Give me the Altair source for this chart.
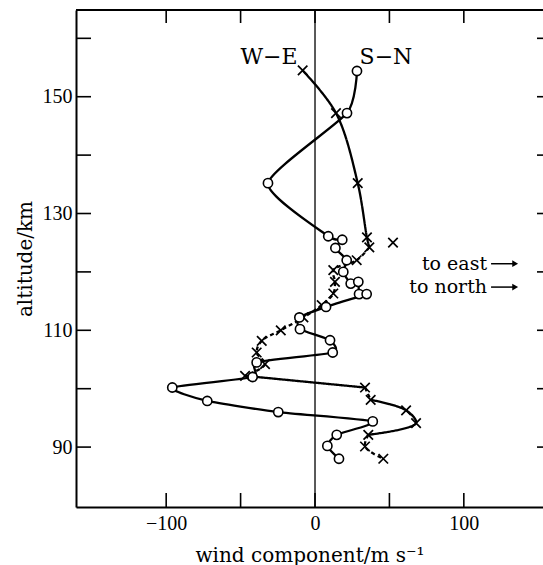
import altair as alt
import pandas as pd

# ---- data ----
# S-N component (open circles), path order top -> bottom
sn_x = [28.2, 21.5, -31.6, 8.9, 18.3, 13.7, 21.3, 19.0, 24.0, 29.1, 29.6, 34.7, 7.4,
        -10.5, -10.1, 10.1, 11.9, -39.2, -41.9, -95.9, -72.4, -24.7, 38.8, 14.6, 8.3, 16.1]
sn_y = [154.4, 147.2, 135.2, 126.1, 125.5, 124.1, 122.0, 120.0, 118.0, 118.3, 116.2, 116.2, 114.0,
        112.2, 110.2, 108.3, 106.2, 104.5, 102.0, 100.2, 97.9, 96.0, 94.4, 92.1, 90.2, 88.0]

# W-E component (crosses), path order top -> bottom
we_x = [-8.3, 14.1, 28.7, 34.9, 36.5, 28.0, 12.3, 13.4, 12.3, 4.5, -7.8, -23.0, -35.8,
        -39.2, -33.6, -47.0, 33.6, 37.4, 61.2, 67.9, 35.8, 33.6, 45.9]
we_y = [154.5, 147.2, 135.2, 125.9, 124.2, 122.0, 120.3, 118.3, 116.3, 114.3, 112.2, 110.0, 108.2,
        106.2, 104.2, 102.2, 100.2, 98.1, 96.3, 94.1, 92.1, 90.1, 88.0]
# line segments of the W-E curve: (first index, last index, style)
we_segments = [(0, 4, "solid"), (4, 15, "dash"), (15, 16, "solid"), (16, 17, "dash"),
               (17, 20, "solid"), (20, 22, "dash")]
# isolated W-E point
we_lone_x = [52.4]
we_lone_y = [125.0]

# axes
x_domain = [-160.6, 153.2]
y_domain = [79.74, 164.85]
x_label_values = [-100, 0, 100]
y_label_values = [90, 110, 130, 150]
x_tick_values = [-100, -50, 0, 50, 100]
y_tick_values = [90, 100, 110, 120, 130, 140, 150, 160]

# annotations
series_labels = ["W−E", "S−N"]
series_label_x = [-30.9, 47.7]
series_label_y = [156.8, 156.8]
dir_labels = ["to east", "to north"]
dir_label_x = [115.6, 115.6]
dir_label_y = [121.4, 117.4]
arrow_x0 = [118.3, 118.3]
arrow_x1 = [134.5, 134.5]

# ---- build ----
W, H = 467, 497
F = "Liberation Serif"
FT = "DejaVu Serif"

xs = alt.Scale(domain=x_domain, nice=False, zero=False)
ys = alt.Scale(domain=y_domain, nice=False, zero=False)
xaxis = alt.Axis(values=x_label_values, ticks=False, grid=False, domainColor="black",
                 domainWidth=2, labelFont=F, labelFontSize=20, labelColor="black",
                 labelPadding=6, labelFlush=False,
                 labelExpr="datum.value < 0 ? '−' + abs(datum.value) : datum.label",
                 title="wind component/m s⁻¹", titleFont=FT, titleFontSize=20,
                 titleFontWeight="normal", titleColor="black", titlePadding=12)
yaxis = alt.Axis(values=y_label_values, ticks=False, grid=False, domainColor="black",
                 domainWidth=2, labelFont=F, labelFontSize=20, labelColor="black",
                 labelPadding=4, labelFlush=False,
                 title="altitude/km", titleFont=FT, titleFontSize=20,
                 titleFontWeight="normal", titleColor="black", titlePadding=7)
X = alt.X("x:Q", scale=xs, axis=xaxis)
Y = alt.Y("y:Q", scale=ys, axis=yaxis)

sn = pd.DataFrame({"x": sn_x, "y": sn_y, "i": range(len(sn_x))})
we_pts = pd.DataFrame({"x": we_x, "y": we_y})
rows = []
for k, (a, b, st) in enumerate(we_segments):
    for i in range(a, b + 1):
        rows.append({"x": we_x[i], "y": we_y[i], "i": i, "seg": k, "style": st})
we_lines = pd.DataFrame(rows)
lone = pd.DataFrame({"x": we_lone_x, "y": we_lone_y})

zero_line = alt.Chart(pd.DataFrame({"x": [0]})).mark_rule(
    color="black", strokeWidth=1.3).encode(x=X, y=alt.value(0), y2=alt.value(H))

top_line = alt.Chart(pd.DataFrame({"a": [0]})).mark_rule(color="black", strokeWidth=2).encode(
    x=alt.value(0), x2=alt.value(W), y=alt.value(0))

yt = pd.DataFrame({"y": y_tick_values})
xt = pd.DataFrame({"x": x_tick_values})
left_ticks = alt.Chart(yt).mark_rule(color="black", strokeWidth=1.6).encode(
    y=Y, x=alt.value(0), x2=alt.value(15))
right_ticks = alt.Chart(yt).mark_rule(color="black", strokeWidth=1.6).encode(
    y=Y, x=alt.value(W - 6), x2=alt.value(W))
bottom_ticks = alt.Chart(xt).mark_rule(color="black", strokeWidth=1.6).encode(
    x=X, y=alt.value(H), y2=alt.value(H - 14))
top_ticks = alt.Chart(xt).mark_rule(color="black", strokeWidth=1.6).encode(
    x=X, y=alt.value(0), y2=alt.value(13))

sn_line = alt.Chart(sn).mark_line(color="black", strokeWidth=2.3,
                                  interpolate="cardinal", tension=0.4).encode(
    x=X, y=Y, order="i:Q")
we_line = alt.Chart(we_lines).mark_line(color="black", strokeWidth=2.3,
                                        interpolate="catmull-rom").encode(
    x=X, y=Y, order="i:Q", detail="seg:N",
    strokeDash=alt.StrokeDash("style:N", scale=alt.Scale(domain=["solid", "dash"],
                                                         range=[[1, 0], [4, 3]]), legend=None))

cross_path = "M-1,-1L1,1M-1,1L1,-1"
we_marks = alt.Chart(we_pts).mark_point(shape=cross_path, size=90, color="black",
                                        strokeWidth=1.7, opacity=1).encode(x=X, y=Y)
lone_marks = alt.Chart(lone).mark_point(shape=cross_path, size=90, color="black",
                                        strokeWidth=1.7, opacity=1).encode(x=X, y=Y)
sn_marks = alt.Chart(sn).mark_point(shape="circle", size=85, filled=True, fill="white",
                                    stroke="black", strokeWidth=1.6, opacity=1).encode(x=X, y=Y)

slab = pd.DataFrame({"x": series_label_x, "y": series_label_y, "t": series_labels})
series_text = alt.Chart(slab).mark_text(font=FT, fontSize=22, color="black",
                                        align="center", baseline="middle").encode(x=X, y=Y, text="t:N")
dlab = pd.DataFrame({"x": dir_label_x, "y": dir_label_y, "t": dir_labels})
dir_text = alt.Chart(dlab).mark_text(font=FT, fontSize=19, color="black",
                                     align="right", baseline="middle").encode(x=X, y=Y, text="t:N")
arr = pd.DataFrame({"x": arrow_x0, "x2": arrow_x1, "y": dir_label_y})
arrow_shaft = alt.Chart(arr).mark_rule(color="black", strokeWidth=1.5).encode(
    x=X, x2="x2:Q", y=Y)
arrow_head = alt.Chart(arr).mark_point(shape="triangle-right", size=45, filled=True,
                                       color="black", opacity=1).encode(
    x=alt.X("x2:Q", scale=xs, axis=xaxis), y=Y)

chart = alt.layer(
    zero_line, top_line, left_ticks, right_ticks, bottom_ticks, top_ticks,
    sn_line, we_line, we_marks, lone_marks, sn_marks,
    series_text, dir_text, arrow_shaft, arrow_head,
).properties(
    width=W, height=H,
    padding={"left": 76, "top": 10, "right": 0, "bottom": 58},
    autosize=alt.AutoSizeParams(type="none"),
).configure_view(stroke="transparent").configure(background="white")

chart.save("out.html", embed_options={"renderer": "svg", "actions": False})
